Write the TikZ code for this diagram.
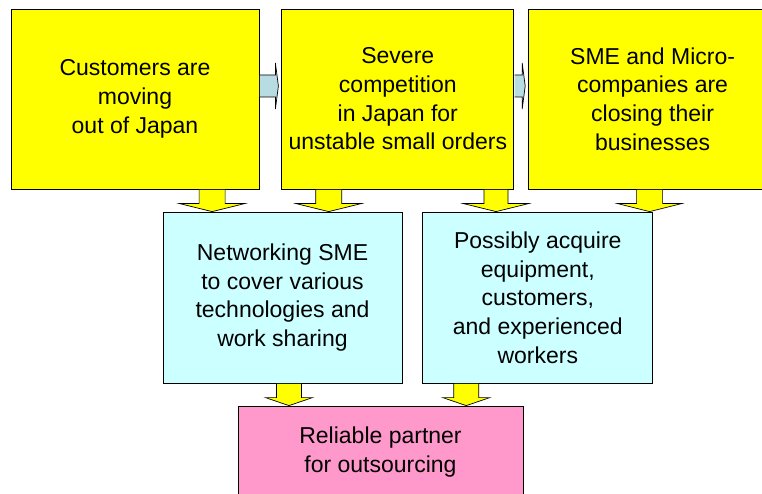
\documentclass[tikz,border=0pt]{standalone}
\usepackage{fontspec}
\setmainfont{Liberation Sans}
\usepackage{tikz}
\usetikzlibrary{calc,positioning}
\definecolor{boxyellow}{RGB}{255,255,0}
\definecolor{boxcyan}{RGB}{204,255,255}
\definecolor{boxpink}{RGB}{255,153,204}
\definecolor{pilgray}{RGB}{183,220,225}
\tikzset{
    %Define style for boxes
    problem/.style={
           rectangle,
           draw=black, thick,
           fill=boxyellow,
           minimum width=248pt,
           minimum height=180pt,
           inner sep=0pt,
           font=\fontsize{23}{28.7}\selectfont,
           align=center},
    measure/.style={
           rectangle,
           draw=black, thick,
           fill=boxcyan,
           minimum width=239pt,
           minimum height=171pt,
           inner sep=0pt,
           font=\fontsize{23}{28.7}\selectfont,
           align=center},
    goal/.style={
           rectangle,
           draw=black, thick,
           fill=boxpink,
           minimum width=285pt,
           minimum height=92pt,
           inner sep=0pt,
           font=\fontsize{23}{28.7}\selectfont,
           align=center},
    % Define arrow style
    downpil/.style={
           draw=black, fill=boxyellow,
           line width=0.7pt},
    sidepil/.style={
           draw=black, fill=pilgray,
           line width=0.7pt}
}
% block arrow: from #1 down to the top of #2, half shaft #3, half head #4
\newcommand{\blockdown}[4]{%
  \draw[downpil] ($(#1)+(-#3,-0.5)$) -- ($(#1|-#2)+(-#3,8)$) -- ($(#1|-#2)+(-#4,8)$)
    -- (#1|-#2) -- ($(#1|-#2)+(#4,8)$) -- ($(#1|-#2)+(#3,8)$) -- ($(#1)+(#3,-0.5)$);}
% block arrow: from #1 right to the side of #2
\newcommand{\blockright}[2]{%
  \draw[sidepil] ($(#1)+(0.5,11)$) -- ($(#1-|#2)+(-6,11)$) -- ($(#1-|#2)+(-6,23)$)
    -- ($(#1-|#2)+(-3,0)$) -- ($(#1-|#2)+(-6,-23)$) -- ($(#1-|#2)+(-6,-11)$) -- ($(#1)+(0.5,-11)$);}
\begin{document}
\begin{tikzpicture}[x=1pt,y=1pt]
\useasboundingbox (0,0) rectangle (762,493);
\clip (0,0) rectangle (762,493);
\node[problem] (cust) at (135,394) {Customers are\\moving\\out of Japan};
\node[problem, minimum width=232pt, right=22pt of cust] (comp) {Severe\\competition\\in Japan for\\unstable small orders};
\node[problem, right=14pt of comp] (close) {SME and Micro-\\companies are\\closing their\\businesses};
\node[measure] (net) at (282.5,195.5) {Networking SME\\to cover various\\technologies and\\work sharing};
\node[measure, minimum width=230pt, right=20pt of net] (acq) {Possibly acquire\\equipment,\\customers,\\and experienced\\workers};
\node[goal] (partner) at (380.5,41) {Reliable partner\\for outsourcing};
% arrows
\coordinate (r1) at ($(cust.east)+(0,13)$);
\coordinate (r2) at ($(comp.east)+(0,13)$);
\blockright{r1}{comp.west}
\blockright{r2}{close.west}
\coordinate (d1) at ($(cust.south west)!0.81!(cust.south east)$);
\coordinate (d2) at ($(comp.south west)!0.203!(comp.south east)$);
\coordinate (d3) at ($(comp.south west)!0.922!(comp.south east)$);
\coordinate (d4) at ($(close.south west)!0.488!(close.south east)$);
\coordinate (d5) at ($(net.south west)!0.527!(net.south east)$);
\coordinate (d6) at ($(acq.south west)!0.19!(acq.south east)$);
\blockdown{d1}{net.north}{13}{32.5}
\blockdown{d2}{net.north}{13}{32.5}
\blockdown{d3}{acq.north}{12}{32.5}
\blockdown{d4}{acq.north}{13}{32}
\blockdown{d5}{partner.north}{12.5}{23.5}
\blockdown{d6}{partner.north}{12.5}{23.5}
\end{tikzpicture}
\end{document}
